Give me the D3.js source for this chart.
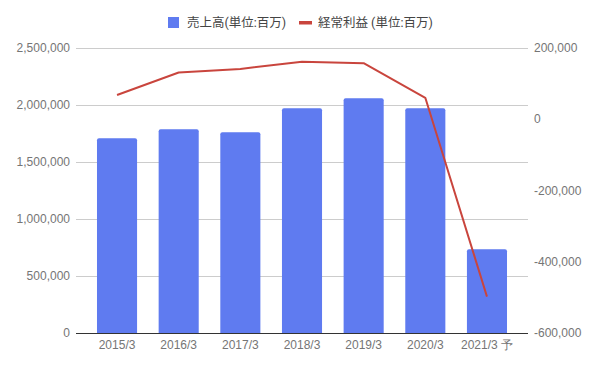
<!DOCTYPE html>
<html>
<head>
<meta charset="utf-8">
<script src="https://cdn.jsdelivr.net/npm/d3@7"></script>
<style>
  html, body { margin: 0; padding: 0; background: #fff; }
  svg { display: block; font-family: Roboto, "Noto Sans CJK JP", sans-serif; }
  .tick text { fill: #757575; font-size: 12px; }
</style>
</head>
<body>
<svg id="chart" width="596" height="369"></svg>
<script>
  // data
  var years = ["2015/3", "2016/3", "2017/3", "2018/3", "2019/3", "2020/3", "2021/3 予"];
  var sales = [1705000, 1784000, 1757000, 1968000, 2055000, 1968000, 733000];     // 売上高
  var profit = [67000, 130000, 140000, 160000, 156000, 59000, -498000];           // 経常利益
  var leftTicks = [0, 500000, 1000000, 1500000, 2000000, 2500000];
  var rightTicks = [-600000, -400000, -200000, 0, 200000];

  var svg = d3.select("#chart");
  // plot box (note: "top" is a reserved window global, so use other names)
  var plotTop = 47.5, plotBottom = 333, plotLeft = 76, plotRight = 528;

  var x = d3.scaleBand().domain(years).range([86.2, 517.8])
      .paddingInner(0.35).paddingOuter(0.175);
  var yL = d3.scaleLinear().domain([0, 2500000]).range([plotBottom, plotTop]);
  var yR = d3.scaleLinear().domain([-600000, 200000]).range([plotBottom, plotTop]);
  var fmt = d3.format(",");
  // plain hyphen for negatives, like the original
  function fmtNum(d) { return fmt(d).replace("\u2212", "-"); }

  // gridlines
  svg.append("g").selectAll("line").data(leftTicks.slice(1)).enter().append("line")
      .attr("x1", plotLeft).attr("x2", plotRight)
      .attr("y1", function (d) { return Math.round(yL(d)) + 0.5; })
      .attr("y2", function (d) { return Math.round(yL(d)) + 0.5; })
      .attr("stroke", "#cccccc");

  // left axis
  var gl = svg.append("g").attr("transform", "translate(" + plotLeft + ",0)")
      .call(d3.axisLeft(yL).tickValues(leftTicks).tickFormat(fmtNum).tickSize(0).tickPadding(6));
  gl.select(".domain").remove();

  // right axis
  var gr = svg.append("g").attr("transform", "translate(" + plotRight + ",0)")
      .call(d3.axisRight(yR).tickValues(rightTicks).tickFormat(fmtNum).tickSize(0).tickPadding(6));
  gr.select(".domain").remove();

  // bars, rounded top corners
  var r = 2;
  svg.append("g").selectAll("path").data(sales).enter().append("path")
      .attr("fill", "#5f7bf0")
      .attr("d", function (d, i) {
          var x0 = x(years[i]), w = x.bandwidth(), y0 = yL(d), y1 = yL(0);
          return "M" + x0 + "," + y1 + "V" + (y0 + r) + "Q" + x0 + "," + y0 + " " + (x0 + r) + "," + y0 +
                 "H" + (x0 + w - r) + "Q" + (x0 + w) + "," + y0 + " " + (x0 + w) + "," + (y0 + r) +
                 "V" + y1 + "Z";
      });

  // baseline
  svg.append("line").attr("x1", plotLeft).attr("x2", plotRight)
      .attr("y1", plotBottom + 0.5).attr("y2", plotBottom + 0.5)
      .attr("stroke", "#333333");

  // x axis labels
  var gx = svg.append("g").attr("transform", "translate(0," + plotBottom + ")")
      .call(d3.axisBottom(x).tickSize(0).tickPadding(7));
  gx.select(".domain").remove();

  // profit line
  var line = d3.line()
      .x(function (d, i) { return x(years[i]) + x.bandwidth() / 2; })
      .y(function (d) { return yR(d); });
  svg.append("path").datum(profit)
      .attr("fill", "none").attr("stroke", "#c9453d").attr("stroke-width", 2)
      .attr("stroke-linejoin", "round")
      .attr("d", line);

  // legend
  var lg = svg.append("g").attr("font-size", "12.5px").attr("fill", "#444");
  lg.append("rect").attr("x", 168).attr("y", 17).attr("width", 11).attr("height", 11).attr("fill", "#5f7bf0");
  lg.append("text").attr("x", 187).attr("y", 27).text("売上高(単位:百万)");
  lg.append("rect").attr("x", 299).attr("y", 21).attr("width", 13).attr("height", 3.5).attr("fill", "#c9453d");
  lg.append("text").attr("x", 318).attr("y", 27).text("経常利益 (単位:百万)");
</script>
</body>
</html>
